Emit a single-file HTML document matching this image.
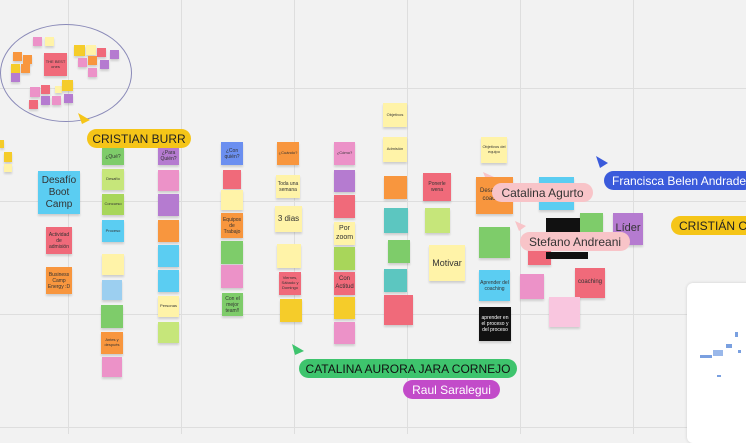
<!DOCTYPE html><html><head><meta charset="utf-8"><style>
body{margin:0;width:746px;height:434px;overflow:hidden;background:#f2f2f2;position:relative;font-family:"Liberation Sans",sans-serif}
.g{position:absolute;background:#dedede}
.n{position:absolute;box-shadow:0 2px 2px rgba(0,0,0,.15);display:flex;align-items:center;justify-content:center;text-align:center;font-size:4px;color:#333;line-height:1.2;overflow:hidden}
.l{position:absolute;border-radius:10px;font-size:12px;display:flex;align-items:center;justify-content:center;white-space:nowrap;overflow:hidden}
.Y{background:#fff3a8}.R{background:#f06a7a}.O{background:#f8963e}.P{background:#b57bd0}.K{background:#ec92c8}.G{background:#7ecc6a}.L{background:#c6e67a}.B{background:#5bcdf2}.T{background:#5cc6c0}.YY{background:#f5cc2a}
</style></head><body>
<div class="g" style="left:68px;top:0;width:1px;height:434px"></div>
<div class="g" style="left:181px;top:0;width:1px;height:434px"></div>
<div class="g" style="left:294px;top:0;width:1px;height:434px"></div>
<div class="g" style="left:407px;top:0;width:1px;height:434px"></div>
<div class="g" style="left:520px;top:0;width:1px;height:434px"></div>
<div class="g" style="left:633px;top:0;width:1px;height:434px"></div>
<div class="g" style="left:0;top:88px;width:746px;height:1px"></div>
<div class="g" style="left:0;top:201px;width:746px;height:1px"></div>
<div class="g" style="left:0;top:314px;width:746px;height:1px"></div>
<div class="g" style="left:0;top:427px;width:746px;height:1px"></div>

<div style="position:absolute;left:0;top:24px;width:130px;height:96px;border:1px solid #8a8ab8;border-radius:50%"></div>
<div class="n K" style="left:33px;top:37px;width:9px;height:9px"></div>
<div class="n Y" style="left:45px;top:37px;width:9px;height:9px"></div>
<div class="n O" style="left:13px;top:52px;width:9px;height:9px"></div>
<div class="n O" style="left:23px;top:55px;width:9px;height:9px"></div>
<div class="n YY" style="left:11px;top:64px;width:9px;height:9px"></div>
<div class="n O" style="left:21px;top:64px;width:9px;height:9px"></div>
<div class="n P" style="left:11px;top:73px;width:9px;height:9px"></div>
<div class="n R" style="left:44px;top:53px;width:23px;height:23px">THE BEST ones</div>
<div class="n YY" style="left:74px;top:45px;width:11px;height:11px"></div>
<div class="n Y" style="left:86px;top:45px;width:10px;height:10px"></div>
<div class="n R" style="left:97px;top:48px;width:9px;height:9px"></div>
<div class="n P" style="left:110px;top:50px;width:9px;height:9px"></div>
<div class="n K" style="left:78px;top:58px;width:9px;height:9px"></div>
<div class="n O" style="left:88px;top:56px;width:9px;height:9px"></div>
<div class="n P" style="left:100px;top:60px;width:9px;height:9px"></div>
<div class="n K" style="left:88px;top:68px;width:9px;height:9px"></div>
<div class="n K" style="left:30px;top:87px;width:10px;height:10px"></div>
<div class="n R" style="left:41px;top:85px;width:9px;height:9px"></div>
<div class="n Y" style="left:55px;top:86px;width:7px;height:7px"></div>
<div class="n YY" style="left:62px;top:80px;width:11px;height:11px"></div>
<div class="n P" style="left:41px;top:96px;width:9px;height:9px"></div>
<div class="n K" style="left:52px;top:96px;width:9px;height:9px"></div>
<div class="n P" style="left:64px;top:94px;width:9px;height:9px"></div>
<div class="n R" style="left:29px;top:100px;width:9px;height:9px"></div>
<div class="n YY" style="left:0;top:140px;width:4px;height:8px"></div>
<div class="n YY" style="left:4px;top:152px;width:8px;height:10px"></div>
<div class="n Y" style="left:4px;top:164px;width:8px;height:8px"></div>

<svg style="position:absolute;left:0;top:0" width="746" height="434">
<polygon points="78,113 90,120 82,124" fill="#f5c518"/>
<polygon points="292,344 304,351 295,355" fill="#3ec46d"/>
<polygon points="596,156 608,163 600,168" fill="#3b5bdb"/>
<polygon points="483,172 494,177 487,182" fill="#f8c4c8"/>
<polygon points="515,221 526,226 519,231" fill="#f8c4c8"/>
</svg>

<div class="n B" style="left:38px;top:171px;width:42px;height:43px;font-size:10px">Desafío Boot Camp</div>
<div class="n R" style="left:46px;top:227px;width:26px;height:27px;font-size:5px">Actividad de admisión</div>
<div class="n O" style="left:46px;top:267px;width:26px;height:27px;font-size:5px">Business Camp Energy :D</div>

<div class="n G" style="left:102px;top:148px;width:22px;height:17px;font-size:5px">¿Qué?</div>
<div class="n L" style="left:102px;top:169px;width:22px;height:21px">Desafío</div>
<div class="n L" style="left:102px;top:194px;width:22px;height:21px;background:#a8d65a">Concurso</div>
<div class="n B" style="left:102px;top:220px;width:22px;height:22px">Proceso</div>
<div class="n Y" style="left:102px;top:254px;width:22px;height:21px"></div>
<div class="n" style="left:102px;top:280px;width:20px;height:20px;background:#9ccff0"></div>
<div class="n G" style="left:101px;top:305px;width:22px;height:23px"></div>
<div class="n O" style="left:101px;top:332px;width:22px;height:22px">Antes y después</div>
<div class="n K" style="left:102px;top:357px;width:20px;height:20px"></div>

<div class="n P" style="left:158px;top:146px;width:21px;height:19px;font-size:5px">¿Para Quién?</div>
<div class="n K" style="left:158px;top:170px;width:21px;height:21px"></div>
<div class="n P" style="left:158px;top:194px;width:21px;height:22px"></div>
<div class="n O" style="left:158px;top:220px;width:21px;height:22px"></div>
<div class="n B" style="left:158px;top:245px;width:21px;height:22px"></div>
<div class="n B" style="left:158px;top:270px;width:21px;height:22px"></div>
<div class="n Y" style="left:158px;top:296px;width:21px;height:21px">Personas</div>
<div class="n L" style="left:158px;top:322px;width:21px;height:21px"></div>

<div class="n" style="left:221px;top:142px;width:22px;height:23px;background:#6b8ff0;font-size:5px">¿Con quién?</div>
<div class="n R" style="left:223px;top:170px;width:18px;height:19px"></div>
<div class="n Y" style="left:221px;top:190px;width:22px;height:20px"></div>
<div class="n O" style="left:221px;top:213px;width:22px;height:25px;font-size:5px">Equipos de Trabajo</div>
<div class="n G" style="left:221px;top:241px;width:22px;height:23px"></div>
<div class="n K" style="left:221px;top:265px;width:22px;height:23px"></div>
<div class="n G" style="left:222px;top:293px;width:21px;height:23px;font-size:5px">Con el mejor team!!</div>

<div class="n O" style="left:277px;top:142px;width:22px;height:23px">¿Cuándo?</div>
<div class="n Y" style="left:276px;top:175px;width:24px;height:23px;font-size:5px">Toda una semana</div>
<div class="n Y" style="left:275px;top:206px;width:27px;height:26px;font-size:8px">3 dias</div>
<div class="n Y" style="left:277px;top:244px;width:24px;height:24px"></div>
<div class="n R" style="left:279px;top:272px;width:22px;height:23px;font-size:4px">Viernes, Sábado y Domingo</div>
<div class="n YY" style="left:280px;top:299px;width:22px;height:23px"></div>

<div class="n K" style="left:334px;top:142px;width:21px;height:23px">¿Cómo?</div>
<div class="n P" style="left:334px;top:170px;width:21px;height:22px"></div>
<div class="n R" style="left:334px;top:195px;width:21px;height:23px"></div>
<div class="n Y" style="left:334px;top:222px;width:21px;height:23px;font-size:7px">Por zoom</div>
<div class="n L" style="left:334px;top:247px;width:21px;height:23px;background:#a8d65a"></div>
<div class="n R" style="left:334px;top:272px;width:21px;height:23px;font-size:6px">Con Actitud</div>
<div class="n YY" style="left:334px;top:297px;width:21px;height:22px"></div>
<div class="n K" style="left:334px;top:322px;width:21px;height:22px"></div>

<div class="n Y" style="left:383px;top:103px;width:24px;height:24px">Objetivos</div>
<div class="n Y" style="left:383px;top:137px;width:24px;height:25px">Admisión</div>
<div class="n O" style="left:384px;top:176px;width:23px;height:23px"></div>
<div class="n T" style="left:384px;top:208px;width:24px;height:25px"></div>
<div class="n G" style="left:388px;top:240px;width:22px;height:23px"></div>
<div class="n T" style="left:384px;top:269px;width:23px;height:23px"></div>
<div class="n R" style="left:384px;top:295px;width:29px;height:30px"></div>
<div class="n R" style="left:423px;top:173px;width:28px;height:28px;font-size:5px">Ponerle wena</div>
<div class="n L" style="left:425px;top:208px;width:25px;height:25px"></div>
<div class="n Y" style="left:429px;top:245px;width:36px;height:36px;font-size:9px">Motivar</div>
<div class="n Y" style="left:481px;top:137px;width:26px;height:26px">Objetivos del equipo</div>
<div class="n O" style="left:476px;top:177px;width:37px;height:37px;font-size:6px">Desafío en coaching</div>
<div class="n G" style="left:479px;top:227px;width:31px;height:31px"></div>
<div class="n B" style="left:479px;top:270px;width:31px;height:31px;font-size:5px">Aprender del coaching</div>
<div class="n" style="left:479px;top:307px;width:32px;height:34px;background:#111;color:#fff;font-size:5px">aprender en el proceso y del proceso</div>
<div class="n B" style="left:539px;top:177px;width:35px;height:33px"></div>
<div class="n G" style="left:580px;top:213px;width:23px;height:23px"></div>
<div style="position:absolute;left:546px;top:218px;width:34px;height:17px;background:#111"></div>
<div class="n P" style="left:613px;top:213px;width:30px;height:32px;font-size:11px">Líder</div>
<div class="n R" style="left:528px;top:240px;width:23px;height:25px"></div>
<div style="position:absolute;left:546px;top:252px;width:42px;height:7px;background:#111"></div>
<div class="n K" style="left:520px;top:274px;width:24px;height:25px"></div>
<div class="n R" style="left:575px;top:268px;width:30px;height:30px;font-size:6px">coaching</div>
<div class="n" style="left:549px;top:297px;width:31px;height:30px;background:#f9c6df"></div>

<div class="l" style="left:87px;top:129px;width:104px;height:19px;background:#f5c518;color:#222">CRISTIAN BURR</div>
<div class="l" style="left:492px;top:183px;width:101px;height:19px;background:#f8c4c8;color:#333">Catalina Agurto</div>
<div class="l" style="left:520px;top:232px;width:110px;height:19px;background:#f8c4c8;color:#333">Stefano Andreani</div>
<div class="l" style="left:604px;top:171px;width:150px;height:19px;background:#3b5bdb;color:#fff;justify-content:flex-start;padding-left:8px;box-sizing:border-box">Francisca Belen Andrade</div>
<div class="l" style="left:671px;top:216px;width:90px;height:19px;background:#f5c518;color:#222;justify-content:flex-start;padding-left:8px;box-sizing:border-box">CRISTIÁN CA</div>
<div class="l" style="left:299px;top:359px;width:218px;height:19px;background:#3ec46d;color:#111">CATALINA AURORA JARA CORNEJO</div>
<div class="l" style="left:403px;top:380px;width:97px;height:19px;background:#c24bc9;color:#fff">Raul Saralegui</div>

<div style="position:absolute;left:687px;top:283px;width:70px;height:160px;background:#fff;border-radius:6px;box-shadow:0 0 3px rgba(0,0,0,.15)"></div>
<div style="position:absolute;left:700px;top:355px;width:12px;height:3px;background:#7aa0e0"></div>
<div style="position:absolute;left:713px;top:350px;width:10px;height:6px;background:#9ab8ea"></div>
<div style="position:absolute;left:726px;top:344px;width:6px;height:4px;background:#7aa0e0"></div>
<div style="position:absolute;left:735px;top:332px;width:3px;height:5px;background:#7aa0e0"></div>
<div style="position:absolute;left:738px;top:350px;width:3px;height:3px;background:#7aa0e0"></div>
<div style="position:absolute;left:717px;top:375px;width:4px;height:2px;background:#7aa0e0"></div>
</body></html>
